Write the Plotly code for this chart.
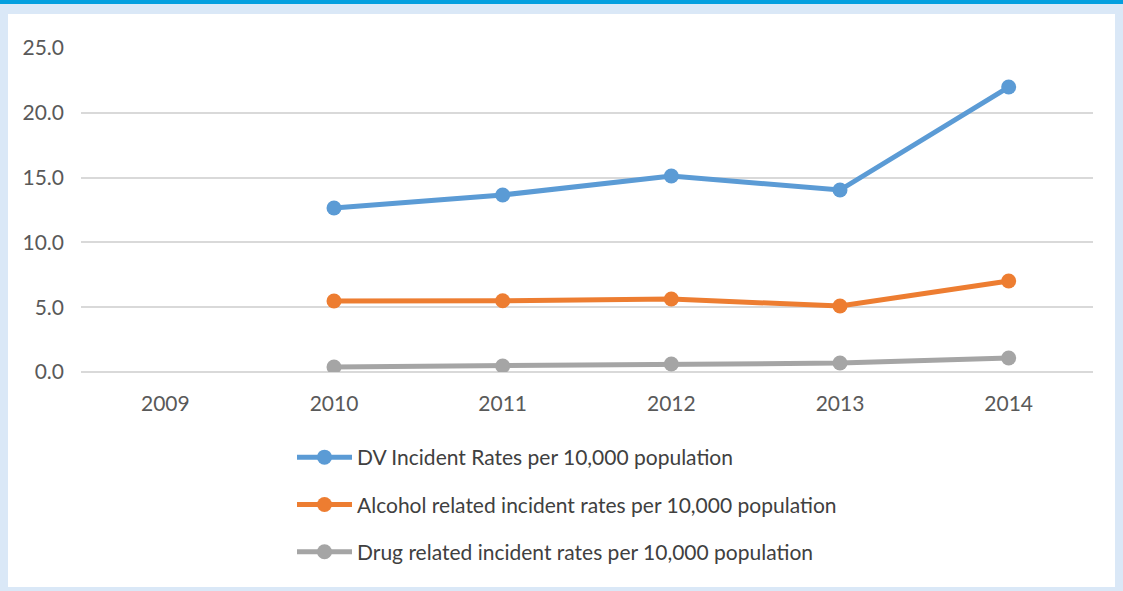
import plotly.graph_objects as go

years = ["2009", "2010", "2011", "2012", "2013", "2014"]
dv_rates = [None, 12.65, 13.66, 15.12, 14.04, 21.99]
alcohol_rates = [None, 5.48, 5.50, 5.63, 5.09, 7.02]
drug_rates = [None, 0.39, 0.46, 0.62, 0.69, 1.08]

series_names = [
    "DV Incident Rates per 10,000 population",
    "Alcohol related incident rates per 10,000 population",
    "Drug related incident rates per 10,000 population",
]
series_colors = ["#5B9BD5", "#ED7D31", "#A5A5A5"]
y_ticks = [0, 5, 10, 15, 20, 25]

fig = go.Figure()
for i, (name, vals, col) in enumerate(zip(series_names, [dv_rates, alcohol_rates, drug_rates], series_colors)):
    fig.add_trace(go.Scatter(
        x=years, y=vals, name=name, mode="lines+markers",
        line=dict(color=col, width=5),
        marker=dict(color=col, size=15),
        connectgaps=False, legendgroup=f"g{i}",
    ))

L, R, T, B = 81, 30, 48, 219
W, H = 1123, 591
pw, ph = W - L - R, H - T - B

def px_x(p):
    return (p - L) / pw

def px_y(p):
    return (H - B - p) / ph

shapes = [
    dict(type="rect", xref="paper", yref="paper", x0=px_x(8), x1=px_x(1115),
         y0=px_y(587), y1=px_y(14), fillcolor="white", line=dict(width=0), layer="below"),
    dict(type="rect", xref="paper", yref="paper", x0=px_x(-5), x1=px_x(1130),
         y0=px_y(4), y1=px_y(-5), fillcolor="#049FDF", line=dict(width=0), layer="below"),
]

fig.update_layout(
    width=W, height=H,
    margin=dict(l=L, r=R, t=T, b=B),
    paper_bgcolor="#DAE8F7",
    plot_bgcolor="white",
    font=dict(family="Lato, Open Sans, sans-serif", color="#595959", size=21),
    shapes=shapes,
    showlegend=True,
    legend=dict(
        orientation="v", x=px_x(292), y=px_y(437), xanchor="left", yanchor="top",
        font=dict(size=21, color="#404040"), itemwidth=55, tracegroupgap=17,
        bgcolor="rgba(0,0,0,0)",
    ),
    xaxis=dict(
        type="category", range=[-0.5, 5.5], showgrid=False, zeroline=False, showline=False,
        ticks="", ticklabelstandoff=17, tickfont=dict(size=21, color="#595959"),
    ),
    yaxis=dict(
        range=[0, 25], tickvals=y_ticks, tickformat=".1f",
        showgrid=True, gridcolor="#D9D9D9", gridwidth=2,
        zeroline=True, zerolinecolor="#D9D9D9", zerolinewidth=2,
        showline=False, ticks="", ticklabelstandoff=16,
        tickfont=dict(size=21, color="#595959"),
    ),
)

fig.write_html("out.html")
